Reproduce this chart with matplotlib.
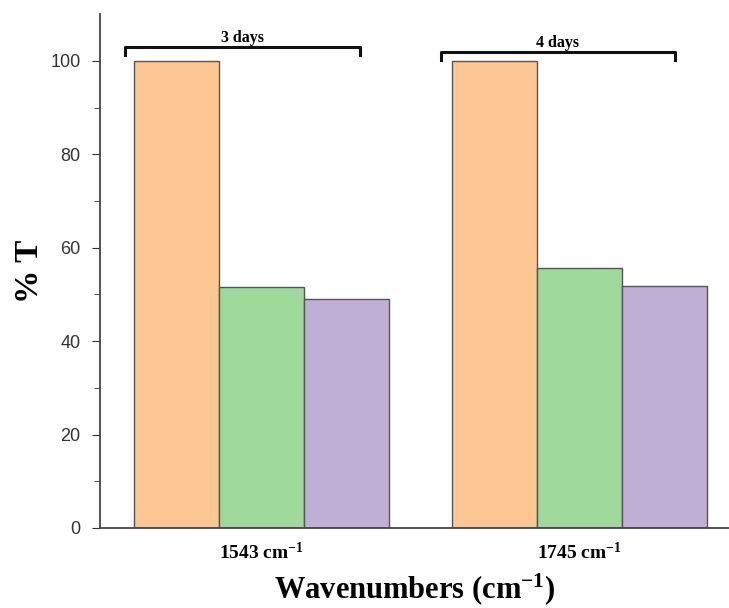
import matplotlib.pyplot as plt
import numpy as np

plt.rcParams['mathtext.fontset'] = 'custom'
plt.rcParams['mathtext.rm'] = 'Liberation Serif:bold'
plt.rcParams['mathtext.it'] = 'Liberation Serif:bold'
plt.rcParams['mathtext.bf'] = 'Liberation Serif:bold'
plt.rcParams['mathtext.default'] = 'rm'

# 數據
groups = ['1543 cm$^{-1}$', '1745 cm$^{-1}$']
series1 = [100, 100]
series2 = [51.7, 55.6]
series3 = [49.1, 51.9]
bracket_labels = ['3 days', '4 days']
colors = ['#FDC794', '#9FD89B', '#C0B0D6']

x = np.arange(len(groups))
w = 0.267

fig = plt.figure(figsize=(7.29, 6.08), dpi=100)
ax = fig.add_axes([0.137, 0.1316, 0.863, 0.845])

for i, (vals, c) in enumerate(zip([series1, series2, series3], colors)):
    ax.bar(x + (i - 1) * w, vals, w, color=c, edgecolor='#555555', linewidth=1.0)

ax.set_xlim(-0.508, 1.47)
ax.set_ylim(0, 110)
ax.set_yticks(np.arange(0, 101, 20))
ax.set_yticks(np.arange(10, 101, 20), minor=True)
ax.tick_params(axis='y', which='major', direction='out', length=6, labelsize=13,
               colors='#333333', pad=8)
ax.tick_params(axis='y', which='minor', direction='out', length=4, colors='#333333')
for lab in ax.get_yticklabels():
    lab.set_fontfamily('Liberation Sans')
ax.set_xticks(x)
ax.set_xticklabels(groups, fontfamily='Liberation Serif', fontweight='bold', fontsize=14)
ax.tick_params(axis='x', length=0, pad=10)

ax.spines['top'].set_visible(False)
ax.spines['right'].set_visible(False)
for s in ['left', 'bottom']:
    ax.spines[s].set_color('#444444')
    ax.spines[s].set_linewidth(1.3)

ax.set_ylabel('% T', fontfamily='Liberation Serif', fontweight='bold', fontsize=24, labelpad=4)
ax.set_xlabel('Wavenumbers (cm$^{-1}$)', fontfamily='Liberation Serif', fontweight='bold',
              fontsize=22, labelpad=6)

# 括號標註
brackets = [(-0.429, 0.310, 103.0), (0.564, 1.30, 101.9)]
for (x0, x1, yb), lab in zip(brackets, bracket_labels):
    ax.plot([x0, x0, x1, x1], [yb - 1.8, yb, yb, yb - 1.8], color='#111111', lw=2.2,
            solid_joinstyle='round', clip_on=False)
    ax.text((x0 + x1) / 2, yb + 0.3, lab, ha='center', va='bottom',
            fontfamily='Liberation Serif', fontweight='bold', fontsize=11.5)

fig.savefig('out.png', dpi=100)
